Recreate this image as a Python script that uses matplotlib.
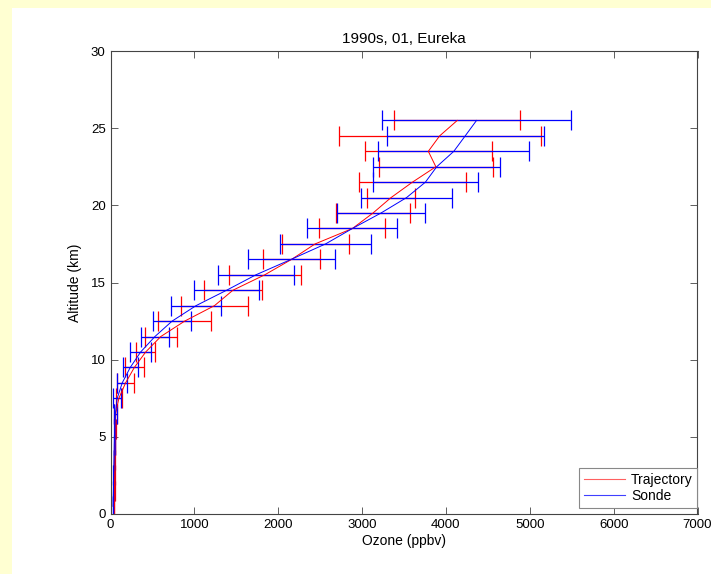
import numpy as np
import matplotlib.pyplot as plt
from matplotlib.patches import Rectangle
from matplotlib.lines import Line2D

plt.rcParams['font.family'] = ['Liberation Sans', 'DejaVu Sans']

# altitude levels (km)
altitude = [0.5, 1.5, 2.5, 3.5, 4.5, 5.5, 6.5, 7.5, 8.5, 9.5, 10.5, 11.5, 12.5,
            13.5, 14.5, 15.5, 16.5, 17.5, 18.5, 19.5, 20.5, 21.5, 22.5, 23.5,
            24.5, 25.5]

# trajectory ozone (ppbv) and error half-widths
traj_ozone = [45, 47, 48, 50, 52, 55, 62, 100, 180, 285, 420, 600, 885,
              1240, 1460, 1840, 2160, 2440, 2885, 3130, 3345, 3600, 3880,
              3790, 3925, 4135]
traj_err = [2, 2, 3, 3, 4, 5, 15, 32, 100, 110, 115, 193, 316,
            402, 343, 429, 341, 400, 394, 437, 290, 640, 683,
            758, 1206, 751]

# sonde ozone (ppbv) and error half-widths
sonde_ozone = [30, 35, 38, 42, 45, 50, 58, 80, 140, 236, 360, 530, 735,
               1020, 1385, 1735, 2155, 2565, 2885, 3225, 3530, 3755, 3890,
               4094, 4230, 4365]
sonde_err = [2, 2, 3, 3, 4, 5, 15, 48, 62, 89, 122, 163, 226,
             300, 390, 453, 519, 538, 537, 528, 548, 624, 760,
             900, 934, 1127]

fig = plt.figure(figsize=(7.11, 5.74), dpi=100, facecolor='white')
# light yellow page margin
fig.patches.append(Rectangle((0, 0), 12 / 711, 1, transform=fig.transFigure,
                             facecolor='#ffffd2', edgecolor='none', zorder=-1))
fig.patches.append(Rectangle((0, 1 - 8 / 574), 1, 8 / 574, transform=fig.transFigure,
                             facecolor='#ffffd2', edgecolor='none', zorder=-1))

ax = fig.add_axes([110.5 / 711, 60 / 574, 587 / 711, 463 / 574])

ax.errorbar(traj_ozone, altitude, xerr=traj_err, color='#ff0000', lw=0.7,
            elinewidth=0.9, capsize=7, capthick=0.9)
ax.errorbar(sonde_ozone, altitude, xerr=sonde_err, color='#0000ff', lw=0.7,
            elinewidth=0.9, capsize=7, capthick=0.9)

ax.set_xlim(0, 7000)
ax.set_ylim(0, 30)
ax.set_xticks(np.arange(0, 7001, 1000))
ax.set_yticks(np.arange(0, 31, 5))
ax.tick_params(direction='in', length=5, width=0.6, top=True, right=True,
               labelsize=9.5, color='#444444')
for s in ax.spines.values():
    s.set_color('#444444')
    s.set_linewidth(0.8)

ax.set_xlabel('Ozone (ppbv)', fontsize=10, labelpad=2)
ax.set_ylabel('Altitude (km)', fontsize=10, labelpad=6)
ax.set_title('1990s, 01, Eureka', fontsize=11, pad=6)

handles = [Line2D([], [], color='#ff6060', lw=0.8),
           Line2D([], [], color='#4040ff', lw=0.8)]
leg = ax.legend(handles, ['Trajectory', 'Sonde'],
                loc='lower right', bbox_to_anchor=(1.0, 0.013), fontsize=10,
                handlelength=3.0, handletextpad=0.4, borderaxespad=0,
                fancybox=False, edgecolor='#888888', framealpha=1,
                labelspacing=0.15, borderpad=0.35)
leg.get_frame().set_linewidth(0.8)

fig.savefig('out.png', dpi=100, facecolor=fig.get_facecolor())
